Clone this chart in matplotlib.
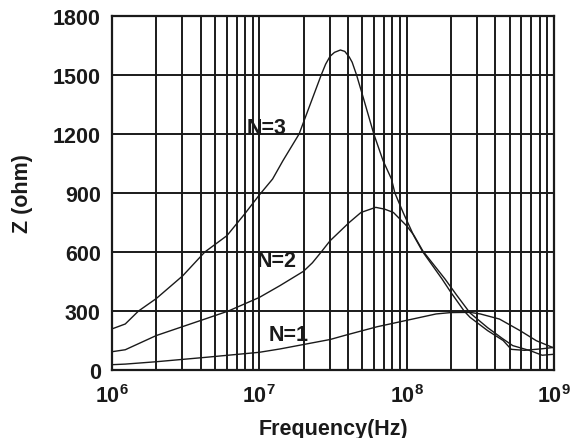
import matplotlib

matplotlib.use("Agg")

import matplotlib.pyplot as plt
import numpy as np
from matplotlib.ticker import FixedLocator, LogLocator, NullFormatter

# impedance curves: log10(frequency) and Z in ohm
N3_LOGF = [6.00, 6.09, 6.18, 6.30, 6.48, 6.63, 6.78, 6.90, 7.00, 7.09, 7.16,
           7.27, 7.35, 7.42, 7.45, 7.48, 7.51, 7.55, 7.58, 7.61, 7.63, 7.66,
           7.705, 7.777, 7.84, 7.897, 7.92, 7.976, 8.05, 8.11, 8.24, 8.30,
           8.39, 8.43, 8.55, 8.655, 8.71, 8.80, 8.92, 9.00]
N3_Z = [209, 234, 300, 363, 479, 600, 683, 793, 890, 971, 1064,
        1200, 1360, 1500, 1555, 1595, 1615, 1627, 1620, 1592, 1565, 1500,
        1386, 1200, 1064, 971, 900, 801, 680, 600, 463, 395,
        300, 268, 200, 150, 105, 100, 108, 115]

N2_LOGF = [6.00, 6.09, 6.30, 6.63, 6.79, 7.00, 7.14, 7.30, 7.36, 7.42, 7.48,
           7.61, 7.69, 7.79, 7.85, 7.91, 8.00, 8.05, 8.11, 8.26, 8.34, 8.43,
           8.55, 8.65, 8.72, 8.84, 8.92, 9.00]
N2_Z = [93, 103, 175, 259, 300, 369, 429, 502, 545, 600, 657,
        750, 801, 827, 818, 801, 733, 684, 605, 463, 380, 290,
        215, 160, 124, 98, 75, 80]

N1_LOGF = [6.00, 6.09, 6.30, 6.63, 7.00, 7.14, 7.48, 7.59, 7.80, 8.04, 8.20,
           8.30, 8.43, 8.50, 8.63, 8.77, 8.88, 8.99]
N1_Z = [27, 30, 42, 64, 90, 107, 155, 178, 220, 259, 285,
        292, 293, 285, 259, 200, 149, 115]

CURVE_LABELS = ["N=3", "N=2", "N=1"]
LABEL_LOGF = [6.916, 6.98, 7.06]
LABEL_Z = [1233, 557, 180]

Y_TICKS = [0, 300, 600, 900, 1200, 1500, 1800]
X_DECADES = [6, 7, 8, 9]

FONT = "Liberation Sans"
FS = 15.5
INK = "#1a1a1a"

plt.rcParams.update({
    "font.family": FONT,
    "font.weight": "bold",
    "mathtext.fontset": "custom",
    "mathtext.rm": "Liberation Sans:bold",
    "mathtext.bf": "Liberation Sans:bold",
    "mathtext.default": "bf",
})

fig = plt.figure(figsize=(5.70, 4.39), dpi=100)
ax = fig.add_axes([0.1965, 0.1549, 0.7754, 0.8064])

for logf, z in [(N3_LOGF, N3_Z), (N2_LOGF, N2_Z), (N1_LOGF, N1_Z)]:
    ax.plot(10 ** np.array(logf), z, color=INK, linewidth=1.0, zorder=3,
            solid_joinstyle="round")

for text, lf, z in zip(CURVE_LABELS, LABEL_LOGF, LABEL_Z):
    ax.text(10 ** lf, z, text, ha="left", va="center", fontsize=FS,
            fontweight="bold", color=INK, zorder=4)

ax.set_xscale("log")
ax.set_xlim(1e6, 1e9)
ax.set_ylim(0, 1800)

ax.xaxis.set_major_locator(FixedLocator([10.0 ** d for d in X_DECADES]))
ax.xaxis.set_minor_locator(LogLocator(base=10, subs=np.arange(2, 10)))
ax.xaxis.set_minor_formatter(NullFormatter())
ax.set_xticklabels([rf"$\mathbf{{10^{{{d}}}}}$" for d in X_DECADES])
ax.set_yticks(Y_TICKS)
ax.set_yticklabels([str(v) for v in Y_TICKS])

ax.grid(True, which="both", axis="x", color=INK, linewidth=1.4)
ax.grid(True, which="major", axis="y", color=INK, linewidth=1.4)
ax.set_axisbelow(True)

for side in ax.spines.values():
    side.set_color(INK)
    side.set_linewidth(1.6)

ax.tick_params(which="both", length=0, labelsize=FS, colors=INK)
ax.tick_params(axis="x", pad=10)
ax.tick_params(axis="y", pad=8)
for lbl in ax.get_yticklabels():
    lbl.set_fontweight("bold")

ax.set_xlabel("Frequency(Hz)", fontsize=FS, fontweight="bold", color=INK, labelpad=8)
ax.set_ylabel("Z (ohm)", fontsize=FS, fontweight="bold", color=INK, labelpad=14)

fig.savefig("out.png", dpi=100)
